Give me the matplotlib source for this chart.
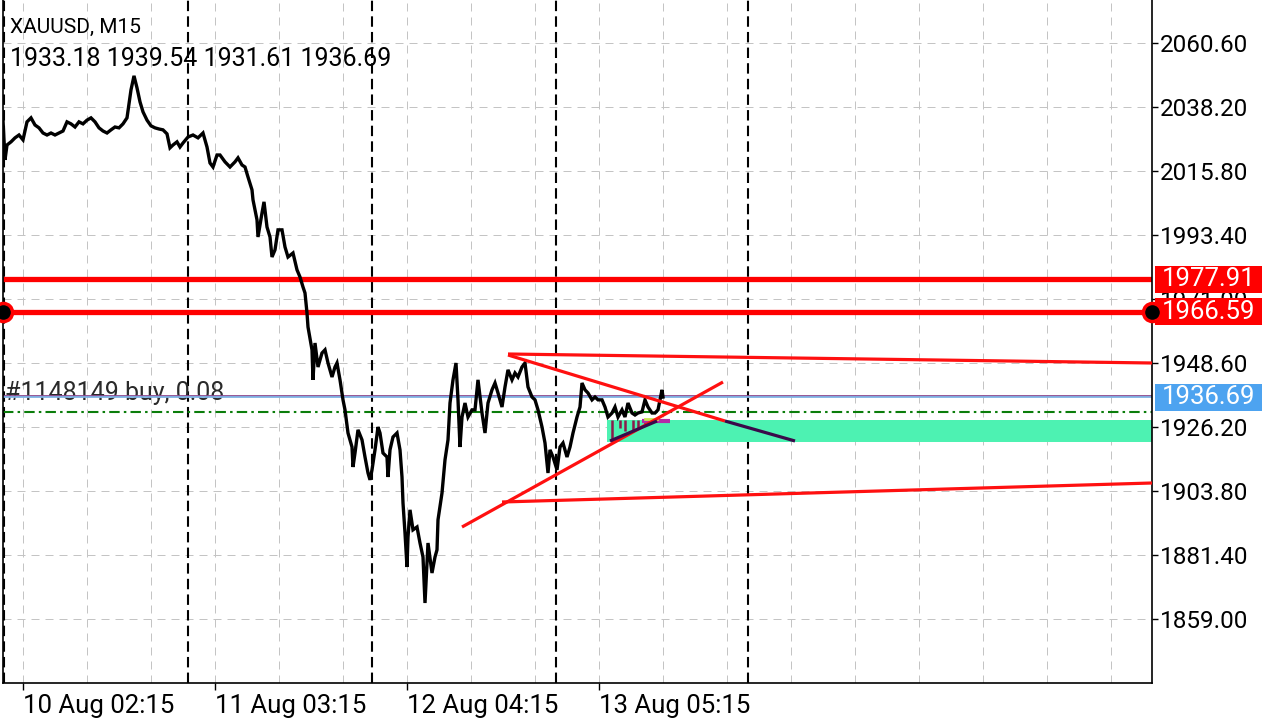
import numpy as np
import matplotlib.pyplot as plt
from matplotlib.patches import Rectangle
from matplotlib.transforms import blended_transform_factory

plt.rcParams['font.family'] = ['Roboto', 'DejaVu Sans']

# header texts
symbol = "XAUUSD, M15"
ohlc_text = "1933.18 1939.54 1931.61 1936.69"

# M15 bar number (from left edge) and close price
bars = [0, 1, 2, 4, 6, 8, 10, 12, 14, 16, 18, 20, 22, 24, 26, 28, 30, 32, 34, 36,
        38, 40, 42, 44, 46, 48, 50, 52, 54, 56, 58, 60, 62, 64, 65.5, 67, 68.5, 70, 72, 74,
        76, 78, 80, 82, 83.5,
        85, 87, 88.5, 90, 92.5, 95, 97.5, 100, 102, 103.5, 105, 107, 108.5, 111, 113.5, 116,
        117.5, 119.5, 121, 122.5, 124.5, 125, 127, 127.5, 129.5, 130.5, 132, 133.5, 134.5, 136,
        137.5, 139.5, 141, 142.5, 145, 147, 148.5, 150, 151, 152, 152.5, 154.5, 155, 156, 157.5,
        159.5, 161, 162.5, 164.5,
        166, 167, 168.5, 170, 171, 172.5, 174.5, 175, 176, 177.5, 179.5, 181, 182.5, 183.5,
        184.5, 186, 187.5, 188.5, 190, 192, 192.5, 193.5, 195, 197, 198.5, 199.5, 200, 201, 202,
        202.5, 203.5, 205, 207, 208.5, 210, 211, 212, 212.5, 214.5, 216, 217, 217.5, 219.5, 221,
        222.5, 223.5, 225, 226.5, 227.5, 228.5, 229.5, 231, 232.5, 234.5, 236, 237.5, 239.5, 241,
        242.5, 244.5, 246,
        247.5, 249.5, 251, 252.5, 254.5, 256, 257.5, 259.5, 261, 262.5, 264.5, 266, 267.5, 269.5,
        271, 272.5, 273.5, 275, 277, 278.5, 280, 282, 283.5, 285, 287, 288.5, 289.5, 291, 292.5,
        294.5, 296, 297.5, 299.5, 301, 302.5, 304.5, 306, 307.5, 309.5, 311, 312.5, 314.5, 316,
        317.5, 319.5, 321, 322.5, 324.5, 326, 327.5, 329.5, 330]
closes = [2033.6, 2019.7, 2024.9, 2026.0, 2027.4, 2028.4, 2026.7, 2033.0, 2034.4, 2031.9,
          2030.9, 2029.1, 2028.4, 2029.1, 2028.4, 2029.1, 2029.8, 2033.0, 2032.3, 2031.2,
          2033.0, 2032.3, 2033.6, 2034.4, 2033.0, 2030.9, 2029.8, 2029.1, 2030.2, 2031.2,
          2030.9, 2032.3, 2034.4, 2044.2, 2049.1, 2044.9, 2040.0, 2036.5, 2033.6, 2031.6,
          2030.9, 2030.5, 2030.2, 2028.8, 2023.9,
          2024.9, 2026.0, 2024.2, 2025.6, 2027.7, 2028.4, 2027.4, 2029.1, 2024.2, 2018.6,
          2017.2, 2021.4, 2021.4, 2019.0, 2017.2, 2019.0, 2020.4, 2017.9, 2017.2, 2013.7,
          2009.2, 2005.7, 1998.7, 1992.7, 2001.1, 2005.0, 1996.2, 1992.7, 1985.7, 1988.2,
          1995.2, 1995.2, 1989.2, 1985.7, 1987.1, 1981.2, 1978.7, 1975.2, 1973.1, 1966.1,
          1961.2, 1953.2, 1942.7, 1955.6, 1947.2, 1952.1, 1953.2, 1948.6, 1943.7,
          1947.2, 1948.6, 1942.7, 1935.7, 1932.2, 1924.1, 1919.2, 1912.2, 1917.1, 1925.2,
          1921.7, 1915.7, 1910.1, 1907.7, 1911.2, 1918.2, 1926.2, 1924.1, 1917.1, 1915.7,
          1908.7, 1918.2, 1922.7, 1924.1, 1918.2, 1908.7, 1899.6, 1889.1, 1877.2, 1887.7,
          1897.2, 1890.2, 1891.2, 1885.6, 1880.7, 1864.6, 1878.6, 1885.6, 1875.1, 1880.7,
          1883.2, 1893.7, 1903.1, 1914.7, 1921.7, 1934.6, 1942.7, 1948.6, 1935.7, 1919.2,
          1929.7, 1934.6, 1929.7, 1932.2, 1932.2, 1942.7, 1931.1, 1924.1, 1934.6, 1939.2,
          1941.6,
          1938.1, 1933.2, 1940.2, 1946.2, 1942.7, 1945.1, 1943.7, 1947.2, 1948.6, 1940.2,
          1936.7, 1935.7, 1932.2, 1926.2, 1920.6, 1910.1, 1918.2, 1915.7, 1911.2, 1919.2,
          1920.6, 1915.7, 1919.2, 1924.1, 1929.7, 1933.2, 1941.6, 1939.2, 1938.1, 1935.7,
          1936.7, 1935.7, 1935.7, 1933.2, 1929.7, 1931.1, 1933.2, 1929.7, 1932.2, 1929.7,
          1934.6, 1931.1, 1930.4, 1931.1, 1931.5, 1935.7, 1933.2, 1931.1, 1931.1, 1932.2,
          1939.2, 1936.69]

y_ticks = [2060.60, 2038.20, 2015.80, 1993.40, 1971.00, 1948.60, 1926.20, 1903.80, 1881.40, 1859.00]
x_tick_bars = [10, 106, 202, 298]
x_tick_labels = ['10 Aug 02:15', '11 Aug 03:15', '12 Aug 04:15', '13 Aug 05:15']
day_breaks = [0.5, 92.5, 184.5, 276.5, 372.5]

level_hi = 1977.91
level_lo = 1966.59
bid = 1936.69
order_price = 1937.05
order_label = "#1148149 buy, 0.08"
sl_price = 1931.55

# drawn objects: (bar0, price0, bar1, price1)
red_lines = [(252.5, 1951.75, 574.5, 1948.6),
             (249.5, 1899.95, 574.5, 1906.6),
             (252.5, 1951.4, 361, 1928.3),
             (229.5, 1891.2, 360, 1941.95)]
purple_lines = [(361, 1928.3, 396, 1921.3),
                (303.5, 1921.3, 327, 1928.3)]
zone_bars = (302, 574.5)
zone_prices = (1920.95, 1928.65)
hist_bars = [304.5, 308.5, 311, 315, 317.5, 321]
hist_lows = [1920.95, 1925.85, 1924.8, 1924.45, 1925.85, 1927.25]

fig = plt.figure(figsize=(12.8, 7.2), dpi=100)
ax = fig.add_axes([3 / 1280, 37 / 720, 1149 / 1280, 683 / 720])
ax.set_xlim(0, 574.5)
ax.set_ylim(1836.6, 2075.65)

# grid
for v in y_ticks:
    ax.axhline(v, color='#C4C4C4', lw=0.72, ls=(0, (8, 6)), zorder=0)
for b in np.arange(10, 575, 32):
    ax.axvline(b, color='#C4C4C4', lw=0.72, ls=(0, (8, 6)), zorder=0)
for b in day_breaks:
    ax.axvline(b, color='black', lw=1.5, ls=(0, (5, 2.5)), zorder=1)

# zone + histogram marks
ax.add_patch(Rectangle((zone_bars[0], zone_prices[0]), zone_bars[1] - zone_bars[0],
                       zone_prices[1] - zone_prices[0], color='#4DF2B2', lw=0, zorder=1.2))
ax.vlines(hist_bars, hist_lows, zone_prices[1], color='#8B1A4B', lw=1.8, zorder=1.3)
ax.plot([319.5, 333.5], [1928.3, 1928.3], color='#B52AA8', lw=3, zorder=1.4,
        solid_capstyle='butt')
ax.plot([321, 327], [1928.9, 1928.9], color='#C8E650', lw=2, zorder=1.45)

# order / bid / stop lines
ax.text(1, 1938.1, order_label, fontsize=18, color='#2A2A2A', va='center', ha='left', zorder=1.5)
ax.axhline(order_price, color='#8E4A8E', lw=1.3, zorder=2)
ax.axhline(bid, color='#7FB2E5', lw=1.3, zorder=2)
ax.axhline(sl_price, color='#0B7D0B', lw=1.5, ls=(0, (5, 2, 1.2, 2)), zorder=2)

# levels
ax.axhline(level_hi, color='#FF0000', lw=3.8, zorder=2.2)
ax.axhline(level_lo, color='#FF0000', lw=3.8, zorder=2.2)

# price
ax.plot(bars, closes, color='black', lw=2.4, zorder=3, solid_joinstyle='miter')

# trend lines
for b0, p0, b1, p1 in red_lines:
    ax.plot([b0, b1], [p0, p1], color='#FF1010', lw=2.3, zorder=4, solid_capstyle='butt')
for b0, p0, b1, p1 in purple_lines:
    ax.plot([b0, b1], [p0, p1], color='#3A0A4A', lw=2.3, zorder=4.1, solid_capstyle='butt')

# right price boxes
tr = blended_transform_factory(ax.transAxes, ax.transData)
box_x0 = (1155 - 3) / 1149
box_w = (1262 - 1155) / 1149
box_h = 27 * 0.35
for price, col in [(level_hi, '#FF0000'), (level_lo, '#FF0000'), (bid, '#4DA3F0')]:
    ax.add_patch(Rectangle((box_x0, price - box_h / 2), box_w, box_h, transform=tr,
                           color=col, lw=0, clip_on=False, zorder=6))
    ax.text(box_x0 + box_w / 2, price, f"{price:.2f}", transform=tr, color='white',
            fontsize=18.5, ha='center', va='center', clip_on=False, zorder=7)

ax.plot([0, 574.5], [level_lo, level_lo], 'o', ms=13, mfc='black', mec='#FF0000',
        mew=2.5, clip_on=False, zorder=8)

# axes styling
ax.yaxis.tick_right()
ax.set_yticks(y_ticks)
ax.set_yticklabels([f"{v:.2f}" for v in y_ticks])
ax.tick_params(axis='y', direction='out', length=4, width=1, pad=2, labelsize=17.5)
ax.set_xticks(x_tick_bars)
ax.set_xticklabels(x_tick_labels)
for lbl in ax.get_xticklabels():
    lbl.set_ha('left')
ax.tick_params(axis='x', direction='out', length=5, width=1, pad=3, labelsize=18.5)
ax.spines['top'].set_visible(False)
for s in ['left', 'right', 'bottom']:
    ax.spines[s].set_linewidth(1.2)

fig.text(10 / 1280, 1 - 27 / 720, symbol, fontsize=15, va='center', ha='left')
fig.text(10 / 1280, 1 - 59 / 720, ohlc_text, fontsize=18, va='center', ha='left')

fig.savefig('out.png', dpi=100)
